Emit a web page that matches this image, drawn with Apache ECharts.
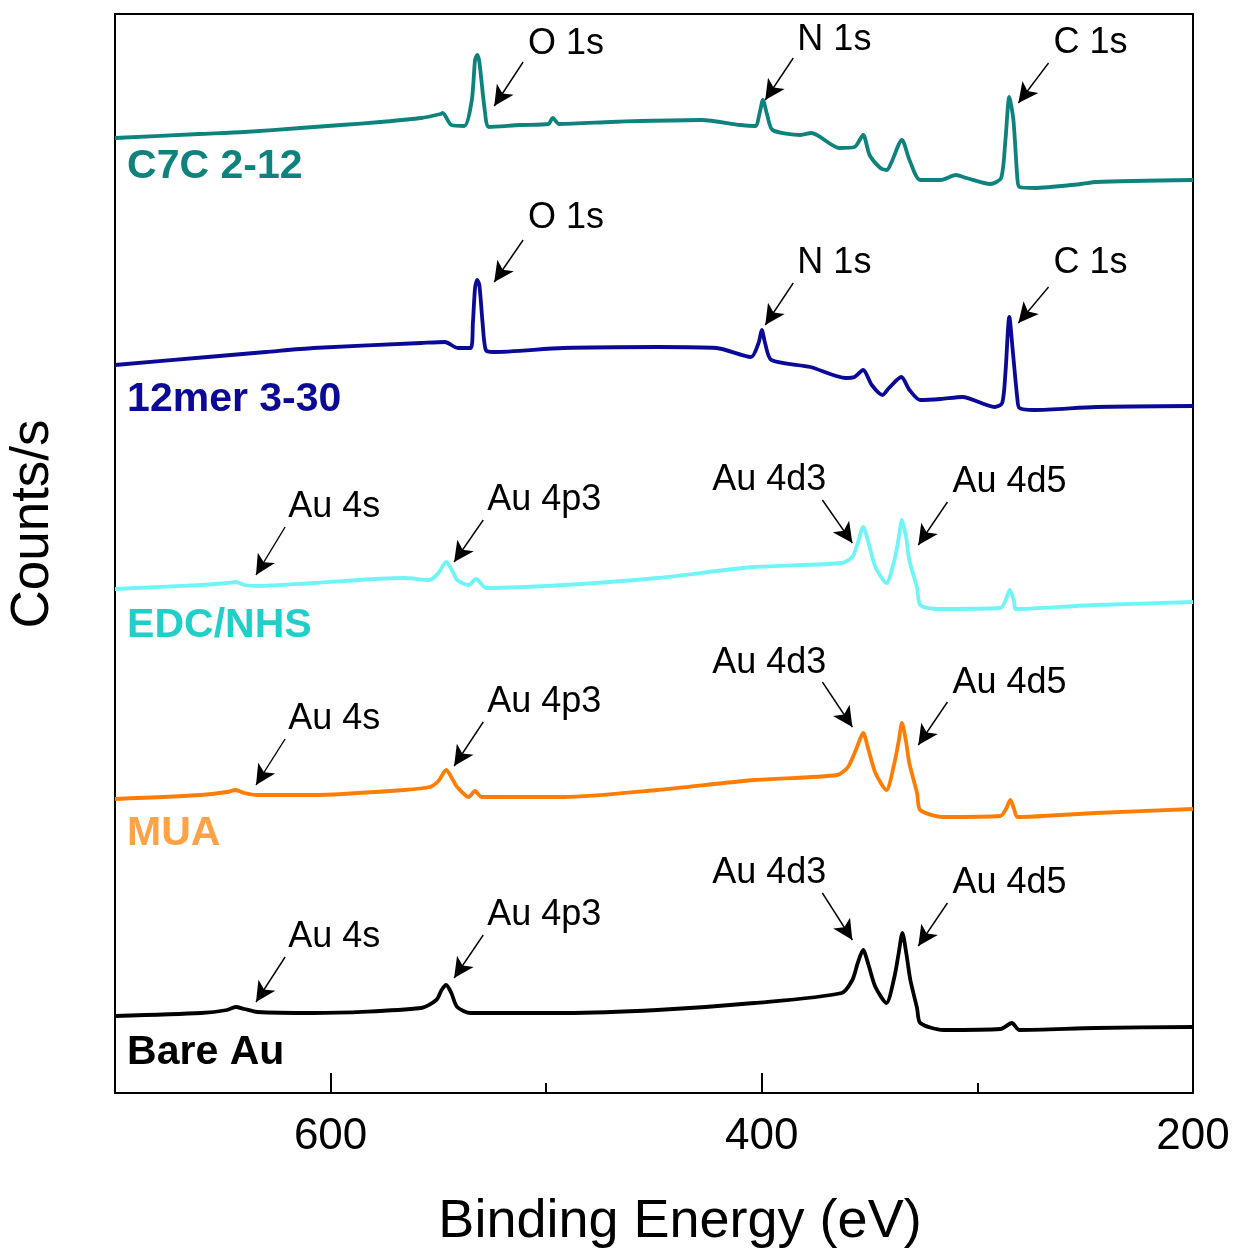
<!DOCTYPE html>
<html>
<head>
<meta charset="utf-8">
<title>XPS survey</title>
<script src="https://cdn.jsdelivr.net/npm/echarts@6/dist/echarts.min.js"></script>
<style>
  html, body { margin: 0; padding: 0; background: #fff; }
  #chart { width: 1234px; height: 1252px; }
</style>
</head>
<body>
<div id="chart"></div>
<script>
// spectra, [binding energy (eV), counts (offset, arb.)]
var c7cSpectrum = [
  [700, 955], [661, 959], [640, 961], [614, 965], [595, 968], [577, 971], [558, 975], [549, 979], [548, 980],
  [544, 968], [538, 967], [534.5, 993], [533, 1033], [532, 1038], [531, 1031], [528.5, 983], [526.5, 966],
  [512, 968], [499, 969], [497, 975], [494, 969], [470, 971], [456, 972], [428, 973], [410, 968], [403, 967],
  [401, 980], [399.5, 993], [397.5, 978], [395, 963], [382, 958], [377, 960], [364, 945], [357, 946],
  [353, 958], [350, 938], [345, 925], [342, 923], [340, 930], [335, 953], [331.5, 933], [326.5, 913],
  [317, 913], [310, 918], [305, 915], [294, 909], [289, 915], [287, 953], [285.2, 996], [283.3, 973],
  [281.4, 913], [280.5, 906], [273.5, 905], [252, 909], [245, 911], [200, 913]
];
var mer12Spectrum = [
  [700, 728], [657, 736], [630, 741], [608, 745], [558, 750], [547, 751], [541, 745], [535, 745],
  [534, 770], [533, 805], [532, 813], [531, 808], [529.5, 770], [528, 743], [524.6, 741], [492, 745],
  [448, 746], [421, 745], [405, 736], [401.5, 750], [400, 763], [398.5, 750], [395.6, 733], [377.5, 726],
  [361, 715], [357, 716], [353, 723], [349, 708], [344, 698], [341, 705], [335.3, 716], [331.5, 703],
  [326.5, 693], [317, 694], [307, 696], [292, 686], [288.5, 690], [287, 720], [285.2, 776], [283.5, 740],
  [281.5, 695], [280.5, 685], [273.5, 683], [245, 686], [200, 687]
];
var edcSpectrum = [
  [700, 504], [660, 508], [648, 510], [644, 511], [640, 508], [634, 507], [608, 510], [566, 515],
  [554, 513], [550, 520], [546.4, 531], [543, 520], [541.3, 513], [536, 508], [532.5, 514], [527.8, 505],
  [491.6, 508], [448.5, 515], [403.5, 526], [363, 530], [358, 536], [355.5, 550], [353, 566], [350.5, 550],
  [347.3, 526], [342.2, 510], [338.5, 533], [336.5, 555], [335, 573], [333, 555], [331.6, 533], [328, 505],
  [326.5, 488], [319.5, 484], [289.3, 485], [286.5, 495], [285, 503], [283, 492], [282.4, 484], [245, 488],
  [200, 491]
];
var muaSpectrum = [
  [700, 294], [660, 298], [648, 301], [644, 303], [640, 300], [634, 298], [608, 298], [566, 303],
  [554, 306], [550, 312], [546.4, 323], [543, 312], [541.3, 306], [536, 296], [533, 302], [530, 296],
  [491.6, 296], [448.5, 303], [403.5, 313], [365, 318], [360, 326], [356, 345], [353, 360], [350.5, 343],
  [347.3, 320], [342.2, 303], [338.5, 330], [336.5, 352], [335, 370], [333, 350], [331.6, 330], [328, 300],
  [326.5, 283], [315.8, 276], [289.3, 277], [286.5, 285], [284.7, 293], [283, 284], [281.4, 276], [245, 280],
  [200, 284]
];
var bareAuSpectrum = [
  [700, 77], [660, 80], [648, 83], [644, 86], [640, 84], [634, 81], [608, 80], [558, 85], [551, 93],
  [548.5, 103], [546.4, 108], [544, 100], [541.3, 86], [535, 80], [491.6, 80], [448.5, 83], [403.5, 90],
  [363, 100], [358, 113], [355.5, 130], [353, 143], [350.5, 128], [347.3, 106], [342.2, 90], [338.5, 116],
  [336.5, 140], [334.8, 160], [333, 140], [331.1, 113], [328, 85], [326.5, 70], [315.8, 63], [289.3, 64],
  [284, 70], [280.5, 63], [245, 65], [200, 66]
];

var sampleNames = ['C7C 2-12', '12mer 3-30', 'EDC/NHS', 'MUA', 'Bare Au'];
var energyTicks = [200, 400, 600];

// peak labels: text, label anchor, arrow start, arrow tip
var c7cPeaks = [
  ['O 1s', [508.4, 1049], [510.7, 1031], [524.1, 987]],
  ['N 1s', [383.5, 1053], [385.4, 1035], [398.4, 993]],
  ['C 1s', [264.7, 1050], [267, 1030], [281, 990]]
];
var mer12Peaks = [
  ['O 1s', [508.4, 875], [510.7, 853], [524.1, 811]],
  ['N 1s', [383.5, 830], [385.4, 810], [398.4, 768]],
  ['C 1s', [264.7, 830], [267, 806], [281, 770]]
];
var edcPeaks = [
  ['Au 4s', [619.7, 586], [621.1, 566], [634.6, 518]],
  ['Au 4p3', [527.4, 593], [529.2, 573], [542.7, 531]],
  ['Au 4d3', [423, 613], [371.9, 593], [358, 550]],
  ['Au 4d5', [311.6, 611], [313.9, 591], [327.4, 548]]
];
var muaPeaks = [
  ['Au 4s', [619.7, 374], [621.1, 354], [634.6, 308]],
  ['Au 4p3', [527.4, 391], [529.2, 371], [542.7, 327]],
  ['Au 4d3', [423, 430], [371.9, 411], [358, 366]],
  ['Au 4d5', [311.6, 410], [313.9, 391], [327.4, 348]]
];
var bareAuPeaks = [
  ['Au 4s', [619.7, 156], [621.1, 136], [634.6, 91]],
  ['Au 4p3', [527.4, 178], [529.2, 158], [542.7, 115]],
  ['Au 4d3', [423, 220], [371.9, 200], [358, 153]],
  ['Au 4d5', [311.6, 210], [313.9, 190], [327.4, 147]]
];
// sample name anchors
var nameSpots = [[694.4, 926], [694.4, 693], [694.4, 467], [694.4, 259], [694.4, 40]];

var spectra = [c7cSpectrum, mer12Spectrum, edcSpectrum, muaSpectrum, bareAuSpectrum];
var peaks = [c7cPeaks, mer12Peaks, edcPeaks, muaPeaks, bareAuPeaks];
var lineColors = ['#0e837d', '#0a0a96', '#6ff5f5', '#ff7d05', '#000000'];
var nameColors = ['#0e837d', '#0a0a96', '#22cfc8', '#ffa245', '#000000'];

var FONT = '"Liberation Sans", Arial, sans-serif';

var myChart = echarts.init(document.getElementById('chart'));

var series = [];
spectra.forEach(function (d, i) {
  series.push({
    name: sampleNames[i],
    type: 'line',
    data: d,
    showSymbol: false,
    symbol: 'none',
    smooth: 0.25,
    lineStyle: { color: lineColors[i], width: 3.8, join: 'round' },
    z: 3,
    markLine: {
      silent: true,
      symbol: ['none', 'arrow'],
      symbolSize: [15, 20],
      label: { show: false },
      lineStyle: { color: '#000', width: 1.4, type: 'solid', opacity: 1 },
      data: peaks[i].map(function (p) {
        return [{ coord: p[2] }, { coord: p[3] }];
      })
    }
  });
});

// text labels
var peakText = [];
peaks.forEach(function (list) {
  list.forEach(function (p) { peakText.push([p[1][0], p[1][1], p[0]]); });
});
series.push({
  type: 'scatter',
  data: peakText,
  symbolSize: 0,
  silent: true,
  z: 5,
  itemStyle: { opacity: 1 },
  label: {
    show: true, position: 'right', distance: 0,
    formatter: function (p) { return p.value[2]; },
    fontFamily: FONT, fontSize: 36, color: '#000'
  }
});
series.push({
  type: 'scatter',
  data: nameSpots.map(function (s, i) {
    return {
      value: [s[0], s[1], sampleNames[i]],
      label: { color: nameColors[i] }
    };
  }),
  symbolSize: 0,
  silent: true,
  z: 5,
  itemStyle: { opacity: 1 },
  label: {
    show: true, position: 'right', distance: 0,
    formatter: function (p) { return p.value[2]; },
    fontFamily: FONT, fontSize: 41, fontWeight: 'bold'
  }
});

var option = {
  backgroundColor: '#fff',
  animation: false,
  grid: {
    left: 115, right: 41, top: 14, bottom: 159,
    show: true, borderColor: '#000', borderWidth: 2, backgroundColor: 'transparent'
  },
  xAxis: [{
    type: 'value', min: 200, max: 700, interval: 200, inverse: true,
    axisLine: { show: true, lineStyle: { color: '#000', width: 2 } },
    axisTick: { show: true, inside: true, length: 20, lineStyle: { color: '#000', width: 2 } },
    axisLabel: {
      show: true, margin: 22, fontSize: 44, color: '#000', fontFamily: FONT,
      showMaxLabel: false,
      formatter: function (v) { return energyTicks.indexOf(v) >= 0 ? String(v) : ''; }
    },
    splitLine: { show: false }
  }, {
    type: 'value', min: 200, max: 700, interval: 100, inverse: true, position: 'bottom',
    axisLine: { show: false },
    axisTick: { show: true, inside: true, length: 10, lineStyle: { color: '#000', width: 2 } },
    axisLabel: { show: false },
    splitLine: { show: false }
  }],
  yAxis: {
    type: 'value', min: 0, max: 1079,
    axisLine: { show: true, lineStyle: { color: '#000', width: 2 } },
    axisTick: { show: false },
    axisLabel: { show: false },
    splitLine: { show: false }
  },
  graphic: [{
    type: 'text',
    x: 680, y: 1222,
    style: {
      text: 'Binding Energy (eV)', font: '54px ' + FONT, fill: '#000',
      align: 'center', verticalAlign: 'middle'
    }
  }, {
    type: 'text',
    x: 33, y: 524, rotation: Math.PI / 2,
    style: {
      text: 'Counts/s', font: '53px ' + FONT, fill: '#000',
      align: 'center', verticalAlign: 'middle'
    }
  }],
  series: series
};

myChart.setOption(option);
</script>
</body>
</html>
